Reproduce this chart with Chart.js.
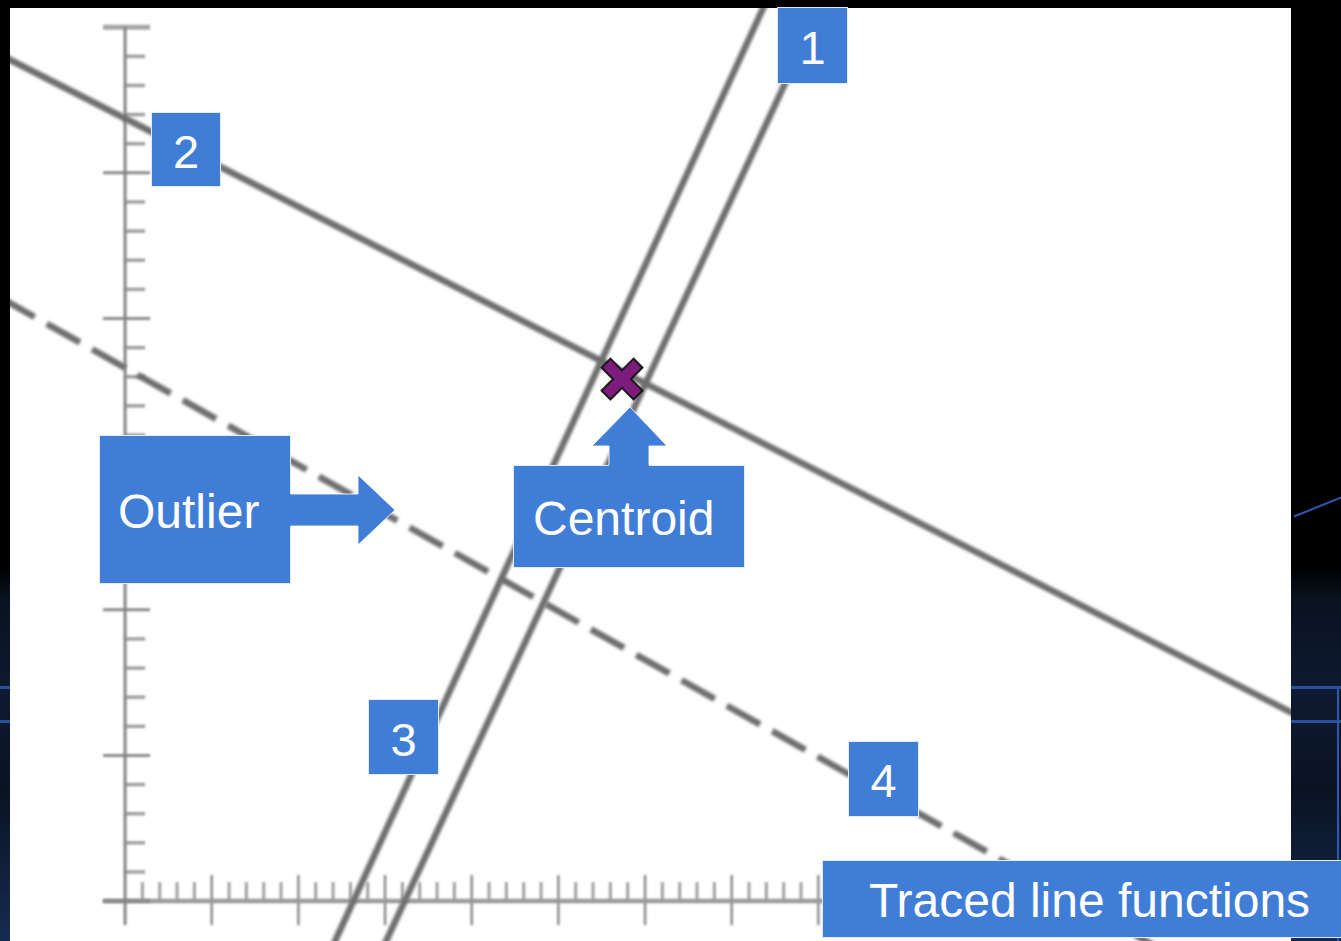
<!DOCTYPE html>
<html>
<head>
<meta charset="utf-8">
<title>Traced line functions</title>
<script src="https://cdn.jsdelivr.net/npm/chart.js@4.4.1/dist/chart.umd.min.js"></script>
<style>
  html, body { margin: 0; padding: 0; }
  body {
    width: 1341px; height: 941px; overflow: hidden; position: relative;
    background:
      linear-gradient(to bottom, transparent 686px, #2b4f9e 686px, #2b4f9e 689px, transparent 689px,
                      transparent 720px, #2b4f9e 720px, #2b4f9e 723px, transparent 723px),
      linear-gradient(to bottom, #000 0, #000 566px, #0a1221 600px, #0e1a31 690px, #0a1322 790px, #162b52 941px);
    font-family: "Liberation Sans", Arial, sans-serif;
  }
  #chart { position: absolute; left: 0; top: 0; }
  .deco { position: absolute; background: #2f58b4; }
  .tag {
    position: absolute; box-sizing: border-box;
    background: #3f7dd7; color: #fff;
    border: 1px solid rgba(255, 255, 255, 0.85);
    font-size: 48px; white-space: nowrap;
  }
  .num { text-align: center; font-size: 47px; }
  #arrows { position: absolute; left: 0; top: 0; }
</style>
</head>
<body>
<canvas id="chart" width="1341" height="941"></canvas>

<div class="deco" style="left:1292px;top:505px;width:56px;height:2px;transform:rotate(-22deg)"></div>
<div class="deco" style="left:1337px;top:689px;width:2px;height:252px"></div>

<div class="tag num" style="left:777px;top:7px;width:71px;height:77px;line-height:80px">1</div>
<div class="tag num" style="left:151px;top:112px;width:70px;height:75px;line-height:78px">2</div>
<div class="tag num" style="left:368px;top:699px;width:71px;height:76px;line-height:80px">3</div>
<div class="tag num" style="left:848px;top:741px;width:71px;height:76px;line-height:78px">4</div>
<div class="tag" style="left:99px;top:435px;width:192px;height:149px;line-height:152px;padding-left:18px">Outlier</div>
<div class="tag" style="left:513px;top:465px;width:232px;height:103px;line-height:105px;padding-left:19px">Centroid</div>
<div class="tag" style="left:822px;top:860px;width:530px;height:78px;line-height:80px;padding-left:46px">Traced line functions</div>

<svg id="arrows" width="1341" height="941">
  <polygon points="289,494 358,494 358,475 395,510 358,545 358,526 289,526" fill="#3f7dd7"/>
  <polyline points="291,494 358,494 358,475 395,510 358,545 358,526 291,526" fill="none" stroke="rgba(255,255,255,0.85)" stroke-width="1"/>
  <polygon points="609,467 609,446 592,446 630,407 667,446 649,446 649,467" fill="#3f7dd7"/>
  <polyline points="609,465 609,446 592,446 630,407 667,446 649,446 649,465" fill="none" stroke="rgba(255,255,255,0.85)" stroke-width="1"/>
</svg>

<script>
// traced lines, end points in axis units [x, y]
const line1 = [[14.57, -2], [41.15, 32]];
const line2 = [[-10, 29.9], [70, 5.65]];
const line3 = [[11.63, -2], [37.85, 32]];
const line4 = [[-10, 21.65], [70, -5.08]];
const centroid = [[28.67, 17.92]];

// visible window of the plane and the ruler ticks (minor every 1, major every 5)
const xBounds = [-6.64, 67.27];
const yBounds = [-1.37, 30.66];
const xTicks = [0, 60];
const yTicks = [0, 30];
const majorStep = 5;

const pts = arr => arr.map(([x, y]) => ({ x, y }));

// filled "x" glyph with dark outline for the centroid
function crossMark() {
  const c = document.createElement('canvas');
  c.width = c.height = 50;
  const g = c.getContext('2d');
  const a = 6.3, b = 22.6;
  g.translate(25, 25);
  g.rotate(Math.PI / 4);
  g.beginPath();
  [[-a, -b], [a, -b], [a, -a], [b, -a], [b, a], [a, a], [a, b], [-a, b], [-a, a], [-b, a], [-b, -a], [-a, -a]]
    .forEach(([px, py], i) => i ? g.lineTo(px, py) : g.moveTo(px, py));
  g.closePath();
  g.fillStyle = '#7e1c7e';
  g.fill();
  g.lineWidth = 2;
  g.strokeStyle = '#151515';
  g.stroke();
  return c;
}

const panel = {
  id: 'panel',
  beforeDraw(chart) {
    const { ctx, chartArea: a } = chart;
    ctx.save();
    ctx.fillStyle = '#ffffff';
    ctx.fillRect(a.left, a.top, a.right - a.left, a.bottom - a.top);
    ctx.restore();
  }
};

// ruler style axes through the origin
const rulerAxes = {
  id: 'rulerAxes',
  beforeDatasetsDraw(chart) {
    const { ctx, scales: { x, y } } = chart;
    const x0 = x.getPixelForValue(0), y0 = y.getPixelForValue(0);
    const seg = (x1, y1, x2, y2, color, w) => {
      ctx.strokeStyle = color;
      ctx.lineWidth = w;
      ctx.beginPath();
      ctx.moveTo(x1, y1);
      ctx.lineTo(x2, y2);
      ctx.stroke();
    };
    ctx.save();
    ctx.filter = 'blur(1.1px)';
    ctx.lineCap = 'butt';

    for (let v = yTicks[0] + 1; v <= yTicks[1]; v++) {
      const py = y.getPixelForValue(v);
      if (v % majorStep === 0) seg(x0 - 22, py, x0 + 25, py, v === yTicks[1] ? '#a6a6a6' : '#8a8a8a', v === yTicks[1] ? 5 : 3);
      else seg(x0, py, x0 + 20, py, '#a0a0a0', 3.5);
    }
    for (let v = xTicks[0] + 1; v <= xTicks[1]; v++) {
      const px = x.getPixelForValue(v);
      if (v % majorStep === 0) seg(px, y0 - 26, px, y0 + 24, '#8a8a8a', 2.5);
      else seg(px, y0 - 19, px, y0, '#a0a0a0', 3);
    }
    seg(x0 - 22, y0, x.getPixelForValue(xTicks[1]), y0, '#9a9a9a', 4.5);
    seg(x0 - 22, y0, x0 + 25, y0, '#8a8a8a', 3);
    seg(x0, y.getPixelForValue(yTicks[1]), x0, y0 + 24, '#838383', 3);
    ctx.restore();
  }
};

// soften the traced lines
const softLines = {
  id: 'softLines',
  beforeDatasetDraw(chart, args) {
    if (chart.data.datasets[args.index].showLine) chart.ctx.filter = 'blur(1.5px)';
  },
  afterDatasetDraw(chart) {
    chart.ctx.filter = 'none';
  }
};

const traced = (label, data, dash, offset) => ({
  label,
  data: pts(data),
  showLine: true,
  borderColor: '#6e6e6e',
  borderWidth: 6.5,
  borderDash: dash || [],
  borderDashOffset: offset || 0,
  pointRadius: 0,
  order: 1
});

new Chart(document.getElementById('chart'), {
  type: 'scatter',
  data: {
    datasets: [
      traced('1', line1),
      traced('2', line2),
      traced('3', line3),
      traced('4', line4, [38, 14], 47),
      {
        label: 'Centroid',
        data: pts(centroid),
        pointStyle: crossMark(),
        pointRadius: 20,
        order: 0
      }
    ]
  },
  options: {
    responsive: false,
    devicePixelRatio: 1,
    animation: false,
    events: [],
    layout: { autoPadding: false, padding: { left: 10, top: 8, right: 50, bottom: 0 } },
    scales: {
      x: { type: 'linear', min: xBounds[0], max: xBounds[1], display: false },
      y: { type: 'linear', min: yBounds[0], max: yBounds[1], display: false }
    },
    plugins: { legend: { display: false }, tooltip: { enabled: false } }
  },
  plugins: [panel, rulerAxes, softLines]
});
</script>
</body>
</html>
